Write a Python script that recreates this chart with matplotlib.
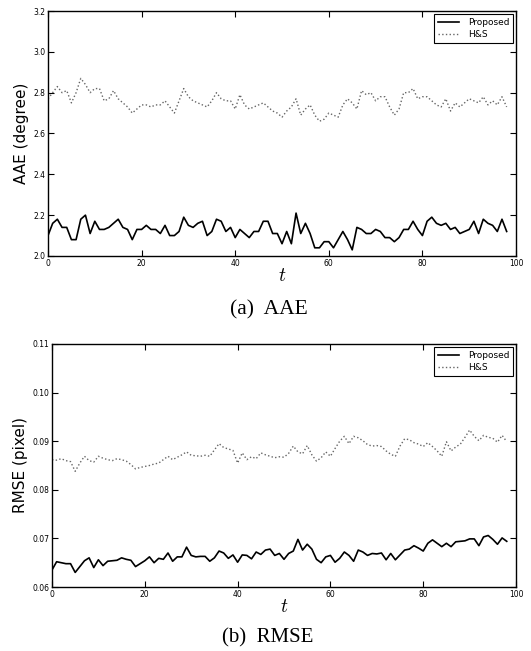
import matplotlib

matplotlib.use("Agg")
import matplotlib.pyplot as plt
import numpy as np

plt.rcParams["font.family"] = ["DejaVu Sans"]
plt.rcParams["mathtext.fontset"] = "cm"

# time steps
t = np.arange(99)

# AAE (degree)
aae_proposed = [
    2.10, 2.16, 2.18, 2.14, 2.14, 2.08, 2.08, 2.18, 2.20, 2.11,
    2.17, 2.13, 2.13, 2.14, 2.16, 2.18, 2.14, 2.13, 2.08, 2.13,
    2.13, 2.15, 2.13, 2.13, 2.11, 2.15, 2.10, 2.10, 2.12, 2.19,
    2.15, 2.14, 2.16, 2.17, 2.10, 2.12, 2.18, 2.17, 2.12, 2.14,
    2.09, 2.13, 2.11, 2.09, 2.12, 2.12, 2.17, 2.17, 2.11, 2.11,
    2.06, 2.12, 2.06, 2.21, 2.11, 2.16, 2.11, 2.04, 2.04, 2.07,
    2.07, 2.04, 2.08, 2.12, 2.08, 2.03, 2.14, 2.13, 2.11, 2.11,
    2.13, 2.12, 2.09, 2.09, 2.07, 2.09, 2.13, 2.13, 2.17, 2.13,
    2.10, 2.17, 2.19, 2.16, 2.15, 2.16, 2.13, 2.14, 2.11, 2.12,
    2.13, 2.17, 2.11, 2.18, 2.16, 2.15, 2.12, 2.18, 2.12,
]
aae_hs = [
    2.77, 2.80, 2.83, 2.80, 2.81, 2.75, 2.80, 2.87, 2.84, 2.80,
    2.82, 2.82, 2.76, 2.77, 2.81, 2.77, 2.75, 2.73, 2.70, 2.72,
    2.74, 2.74, 2.73, 2.74, 2.74, 2.76, 2.73, 2.70, 2.76, 2.82,
    2.78, 2.76, 2.75, 2.74, 2.73, 2.76, 2.80, 2.77, 2.76, 2.76,
    2.72, 2.79, 2.74, 2.72, 2.73, 2.74, 2.75, 2.73, 2.71, 2.70,
    2.68, 2.71, 2.73, 2.77, 2.69, 2.72, 2.74, 2.69, 2.66, 2.67,
    2.70, 2.69, 2.68, 2.74, 2.77, 2.75, 2.72, 2.81, 2.79, 2.80,
    2.76, 2.78, 2.78, 2.73, 2.69, 2.72, 2.80, 2.80, 2.82, 2.77,
    2.78, 2.78, 2.76, 2.74, 2.73, 2.77, 2.71, 2.75, 2.73, 2.75,
    2.77, 2.76, 2.75, 2.78, 2.74, 2.76, 2.74, 2.78, 2.73,
]

# RMSE (pixel)
rmse_proposed = [
    0.0635, 0.0652, 0.0650, 0.0648, 0.0648, 0.0630, 0.0642, 0.0654, 0.0660, 0.0640,
    0.0656, 0.0644, 0.0653, 0.0654, 0.0655, 0.0660, 0.0657, 0.0655, 0.0642, 0.0648,
    0.0654, 0.0662, 0.0650, 0.0659, 0.0657, 0.0670, 0.0653, 0.0662, 0.0662, 0.0682,
    0.0665, 0.0662, 0.0663, 0.0663, 0.0653, 0.0660, 0.0674, 0.0670, 0.0659, 0.0666,
    0.0651, 0.0666, 0.0665, 0.0658, 0.0672, 0.0667, 0.0676, 0.0678, 0.0665, 0.0669,
    0.0657, 0.0669, 0.0674, 0.0698, 0.0676, 0.0688, 0.0678, 0.0657, 0.0650, 0.0662,
    0.0665, 0.0651, 0.0659, 0.0672, 0.0665, 0.0653, 0.0676, 0.0672, 0.0665, 0.0669,
    0.0668, 0.0670, 0.0656, 0.0669, 0.0656, 0.0666, 0.0676, 0.0678, 0.0685, 0.0680,
    0.0674, 0.0690, 0.0697, 0.0690, 0.0683, 0.0690, 0.0683, 0.0693, 0.0694, 0.0695,
    0.0699, 0.0699, 0.0685, 0.0703, 0.0706, 0.0698, 0.0688, 0.0701, 0.0694,
]
rmse_hs = [
    0.0862, 0.0861, 0.0864, 0.0860, 0.0858, 0.0838, 0.0855, 0.0869, 0.0860, 0.0857,
    0.0869, 0.0865, 0.0862, 0.0860, 0.0864, 0.0862, 0.0859, 0.0852, 0.0843, 0.0846,
    0.0848, 0.0850, 0.0853, 0.0855, 0.0862, 0.0869, 0.0862, 0.0867, 0.0872, 0.0878,
    0.0871, 0.0870, 0.0869, 0.0871, 0.0869, 0.0882, 0.0895, 0.0887, 0.0884, 0.0881,
    0.0855, 0.0876, 0.0862, 0.0868, 0.0864, 0.0876, 0.0872, 0.0869, 0.0866, 0.0868,
    0.0867, 0.0875, 0.0890, 0.0878, 0.0874, 0.0891, 0.0872, 0.0859, 0.0866, 0.0878,
    0.0869, 0.0885, 0.0900, 0.0910, 0.0895, 0.0910, 0.0907, 0.0901, 0.0893, 0.0890,
    0.0891, 0.0889, 0.0880, 0.0873, 0.0869, 0.0890, 0.0905, 0.0903, 0.0897, 0.0894,
    0.0889, 0.0897, 0.0889, 0.0880, 0.0869, 0.0899, 0.0880, 0.0888, 0.0894, 0.0908,
    0.0923, 0.0910, 0.0901, 0.0912, 0.0908, 0.0906, 0.0898, 0.0912, 0.0899,
]

aae_ticks = [2.0, 2.2, 2.4, 2.6, 2.8, 3.0, 3.2]
rmse_ticks = [0.06, 0.07, 0.08, 0.09, 0.10, 0.11]
t_ticks = [0, 20, 40, 60, 80, 100]


def style_axis(ax, yticks, fmt, ylabel):
    ax.set_xlim(0, 100)
    ax.set_ylim(yticks[0], yticks[-1])
    ax.set_xticks(t_ticks)
    ax.set_yticks(yticks)
    ax.set_yticklabels([fmt.format(v) for v in yticks])
    ax.tick_params(direction="in", length=4, width=0.8, labelsize=5.5,
                   top=True, right=True, pad=2)
    for spine in ax.spines.values():
        spine.set_linewidth(1.0)
    ax.set_xlabel(r"$t$", fontsize=14, labelpad=-1)
    ax.set_ylabel(ylabel, fontsize=11, labelpad=3)
    leg = ax.legend(loc="upper right", fontsize=6.5, fancybox=False,
                    framealpha=1, borderpad=0.4, handlelength=2.3,
                    handletextpad=1.0, borderaxespad=0.35, labelspacing=0.4)
    leg.get_frame().set_edgecolor("black")
    leg.get_frame().set_linewidth(0.8)


fig = plt.figure(figsize=(5.31, 6.51), dpi=100)

ax1 = fig.add_axes([0.0904, 0.6068, 0.8814, 0.3763])
ax1.plot(t, aae_proposed, color="black", lw=1.2, label="Proposed")
ax1.plot(t, aae_hs, color="0.4", lw=1.0, ls=":", label="H&S")
style_axis(ax1, aae_ticks, "{:.1f}", "AAE (degree)")

ax2 = fig.add_axes([0.0979, 0.0983, 0.8739, 0.3733])
ax2.plot(t, rmse_proposed, color="black", lw=1.2, label="Proposed")
ax2.plot(t, rmse_hs, color="0.4", lw=1.0, ls=":", label="H&S")
style_axis(ax2, rmse_ticks, "{:.2f}", "RMSE (pixel)")

fig.text(269 / 531, 1 - 310 / 651, "(a)  AAE", ha="center", va="center",
         fontsize=15.5, family="Liberation Serif")
fig.text(268 / 531, 1 - 638 / 651, "(b)  RMSE", ha="center", va="center",
         fontsize=15, family="Liberation Serif")

fig.savefig("out.png", dpi=100)
